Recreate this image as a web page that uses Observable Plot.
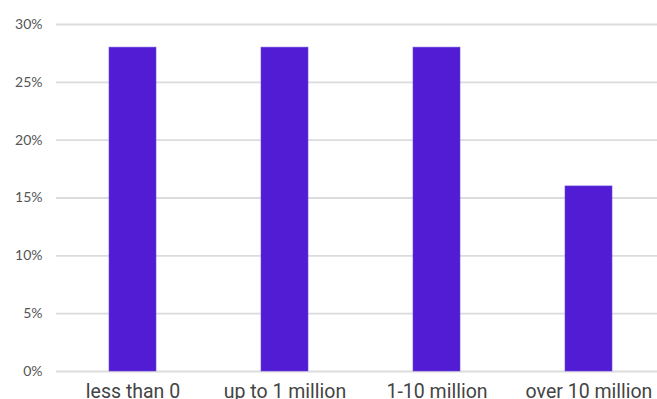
<!DOCTYPE html>
<html>
<head>
<meta charset="utf-8">
<script src="https://cdn.jsdelivr.net/npm/d3@7"></script>
<script src="https://cdn.jsdelivr.net/npm/@observablehq/plot@0.6"></script>
<style>
  html, body { margin: 0; padding: 0; background: #fff; }
  svg { display: block; }
</style>
</head>
<body>
<div id="chart"></div>
<script>
const categories = ["less than 0", "up to 1 million", "1-10 million", "over 10 million"];
const values = [0.28, 0.28, 0.28, 0.16];
const yTicks = [0, 0.05, 0.10, 0.15, 0.20, 0.25, 0.30];

const data = categories.map((c, i) => ({category: c, value: values[i]}));

const chart = Plot.plot({
  width: 657,
  height: 399,
  marginLeft: 56,
  marginRight: -9,
  marginTop: 24,
  marginBottom: 28,
  style: {background: "#fff", overflow: "hidden"},
  x: {domain: categories, paddingInner: 0.69, paddingOuter: 0.345, label: null, tickSize: 0},
  y: {domain: [0, 0.30], ticks: yTicks, label: null, tickSize: 0},
  marks: [
    Plot.ruleY(yTicks, {stroke: "#dcdcdc", strokeWidth: 1.8}),
    Plot.barY(data, {x: "category", y: "value", fill: "#511cd3", stroke: "#6f48dd", strokeWidth: 0.6}),
    Plot.axisY({ticks: yTicks, tickFormat: d => Math.round(d * 100) + "%", tickSize: 0, tickPadding: 14,
      fontFamily: "Lato", fontSize: 14, fill: "#555", label: null}),
    Plot.axisX({tickSize: 0, tickPadding: 13, fontFamily: "Roboto", fontSize: 19.5, fill: "#444", label: null})
  ]
});
document.getElementById("chart").appendChild(chart);
</script>
</body>
</html>
